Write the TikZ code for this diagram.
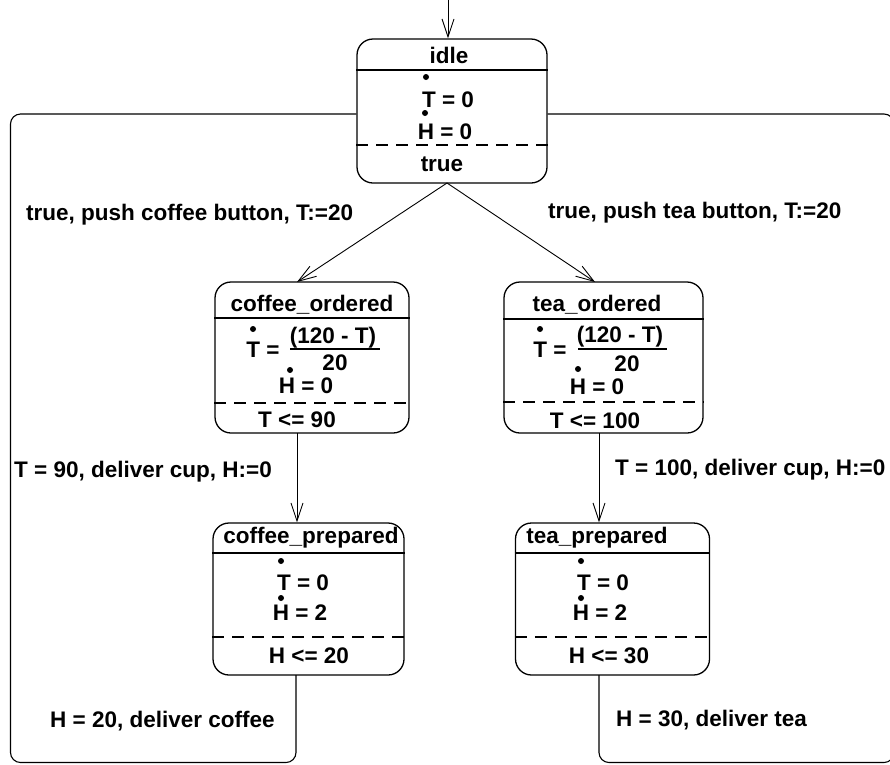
\documentclass[tikz,border=0pt]{standalone}
\usepackage{fontspec}
\setmainfont{Liberation Sans}
\usetikzlibrary{arrows.meta}

\begin{document}
\begin{tikzpicture}[x=1pt,y=-1pt,
  every node/.style={font=\fontsize{22.5}{27}\selectfont\bfseries, inner sep=0pt},
  statebox/.style={draw, line width=1.3pt, rounded corners=16pt, minimum width=#1},
  sep/.style={line width=1.1pt},
  guardsep/.style={line width=1.1pt, dash pattern=on 12pt off 8pt},
  arr/.style={line width=0.9pt, -{Straight Barb[length=18pt,width=12pt,line width=0.9pt]}},
  loop/.style={line width=1.1pt, rounded corners=10pt},
  dotmark/.style={fill, circle, minimum size=6pt, inner sep=0pt}
]
\useasboundingbox (0,0) rectangle (890,764);
\clip (0,0) rectangle (890,764);

% ---------- states ----------
\node[statebox=190pt, minimum height=144pt] (idle) at (452,111) {};
\node[statebox=194pt, minimum height=151pt] (co) at (312,357.5) {};
\node[statebox=199pt, minimum height=151pt] (to) at (603.5,357.5) {};
\node[statebox=191pt, minimum height=152pt] (cp) at (308.5,599) {};
\node[statebox=194pt, minimum height=152pt] (tp) at (612.5,599) {};

% compartments: name / flow / invariant
\draw[sep] (idle.west |- 0,70) -- (idle.east |- 0,70);
\draw[guardsep] (idle.west |- 0,145) -- (idle.east |- 0,145);
\draw[sep] (co.west |- 0,318) -- (co.east |- 0,318);
\draw[guardsep] (co.west |- 0,403) -- (co.east |- 0,403);
\draw[sep] (to.west |- 0,319) -- (to.east |- 0,319);
\draw[guardsep] (to.west |- 0,402) -- (to.east |- 0,402);
\draw[sep] (cp.west |- 0,553) -- (cp.east |- 0,553);
\draw[guardsep] (cp.west |- 0,637) -- (cp.east |- 0,637);
\draw[sep] (tp.west |- 0,553) -- (tp.east |- 0,553);
\draw[guardsep] (tp.west |- 0,637) -- (tp.east |- 0,637);

% idle
\node (idleN) at (449,55) {idle};
\node[dotmark] (idleTd) at (426,77) {};
\node (idleT) at (448,100) {T = 0};
\node[dotmark] (idleHd) at (425,113) {};
\node (idleH) at (445,132) {H = 0};
\node (idleI) at (442,164) {true};

% coffee_ordered
\node (coN) at (312,305) {coffee\_ordered};
\node[dotmark] (coTd) at (253,329) {};
\node (coT) at (263,350) {T =};
\node (coNum) at (333,338) {(120 - T)};
\draw[sep] (290,349) coordinate (coBarL) -- (380,349) coordinate (coBarR);
\node (coDen) at (335,363) {20};
\node[dotmark] (coHd) at (290,370) {};
\node (coH) at (306,386) {H = 0};
\node (coI) at (297,420) {T <= 90};

% tea_ordered
\node (toN) at (597,305) {tea\_ordered};
\node[dotmark] (toTd) at (540,329) {};
\node (toT) at (550,350) {T =};
\node (toNum) at (620,337) {(120 - T)};
\draw[sep] (578,349) coordinate (toBarL) -- (667,349) coordinate (toBarR);
\node (toDen) at (627,364) {20};
\node[dotmark] (toHd) at (578,369) {};
\node (toH) at (597,387) {H = 0};
\node (toI) at (595,421) {T <= 100};

% coffee_prepared
\node (cpN) at (311,538) {coffee\_prepared};
\node[dotmark] (cpTd) at (281,561) {};
\node (cpT) at (303,583) {T = 0};
\node[dotmark] (cpHd) at (281,598) {};
\node (cpH) at (300,613) {H = 2};
\node (cpI) at (309,656) {H <= 20};

% tea_prepared
\node (tpN) at (597,538) {tea\_prepared};
\node[dotmark] (tpTd) at (581,561) {};
\node (tpT) at (603,583) {T = 0};
\node[dotmark] (tpHd) at (581,598) {};
\node (tpH) at (600,613) {H = 2};
\node (tpI) at (609,656) {H <= 30};

% ---------- transitions ----------
\coordinate (init) at (448,0);
\draw[arr] (init) -- (init |- idle.north);

\coordinate (idleOut) at (447,183);
\coordinate (coIn) at (297,282);
\coordinate (toIn) at (595,282);
\draw[arr] (idleOut) -- (coIn);
\draw[arr] (idleOut) -- (toIn);

\coordinate (coOut) at (297,433);
\draw[arr] (coOut) -- (coOut |- cp.north);
\coordinate (toOut) at (599,433);
\draw[arr] (toOut) -- (toOut |- tp.north);

% return loops back to idle
\coordinate (cpOut) at (296,675);
\coordinate (idleW) at (idle.west |- 0,114);
\draw[loop] (cpOut) -- (296,762.5) -- (10.5,762.5) -- (10.5,114) -- (idleW);
\coordinate (tpOut) at (599,675);
\coordinate (idleE) at (idle.east |- 0,114);
\draw[loop] (tpOut) -- (599,762.5) -- (894,762.5) -- (894,114) -- (idleE);

% ---------- transition labels ----------
\node[anchor=west] (l1) at (26,215) {true, push coffee button, T:=20};
\node[anchor=west] (l2) at (548,213) {true, push tea button, T:=20};
\node[anchor=west] (l3) at (14,472) {T = 90, deliver cup, H:=0};
\node[anchor=west] (l4) at (615,470) {T = 100, deliver cup, H:=0};
\node[anchor=west] (l5) at (50,721) {H = 20, deliver coffee};
\node[anchor=west] (l6) at (616,720) {H = 30, deliver tea};
\end{tikzpicture}
\end{document}
